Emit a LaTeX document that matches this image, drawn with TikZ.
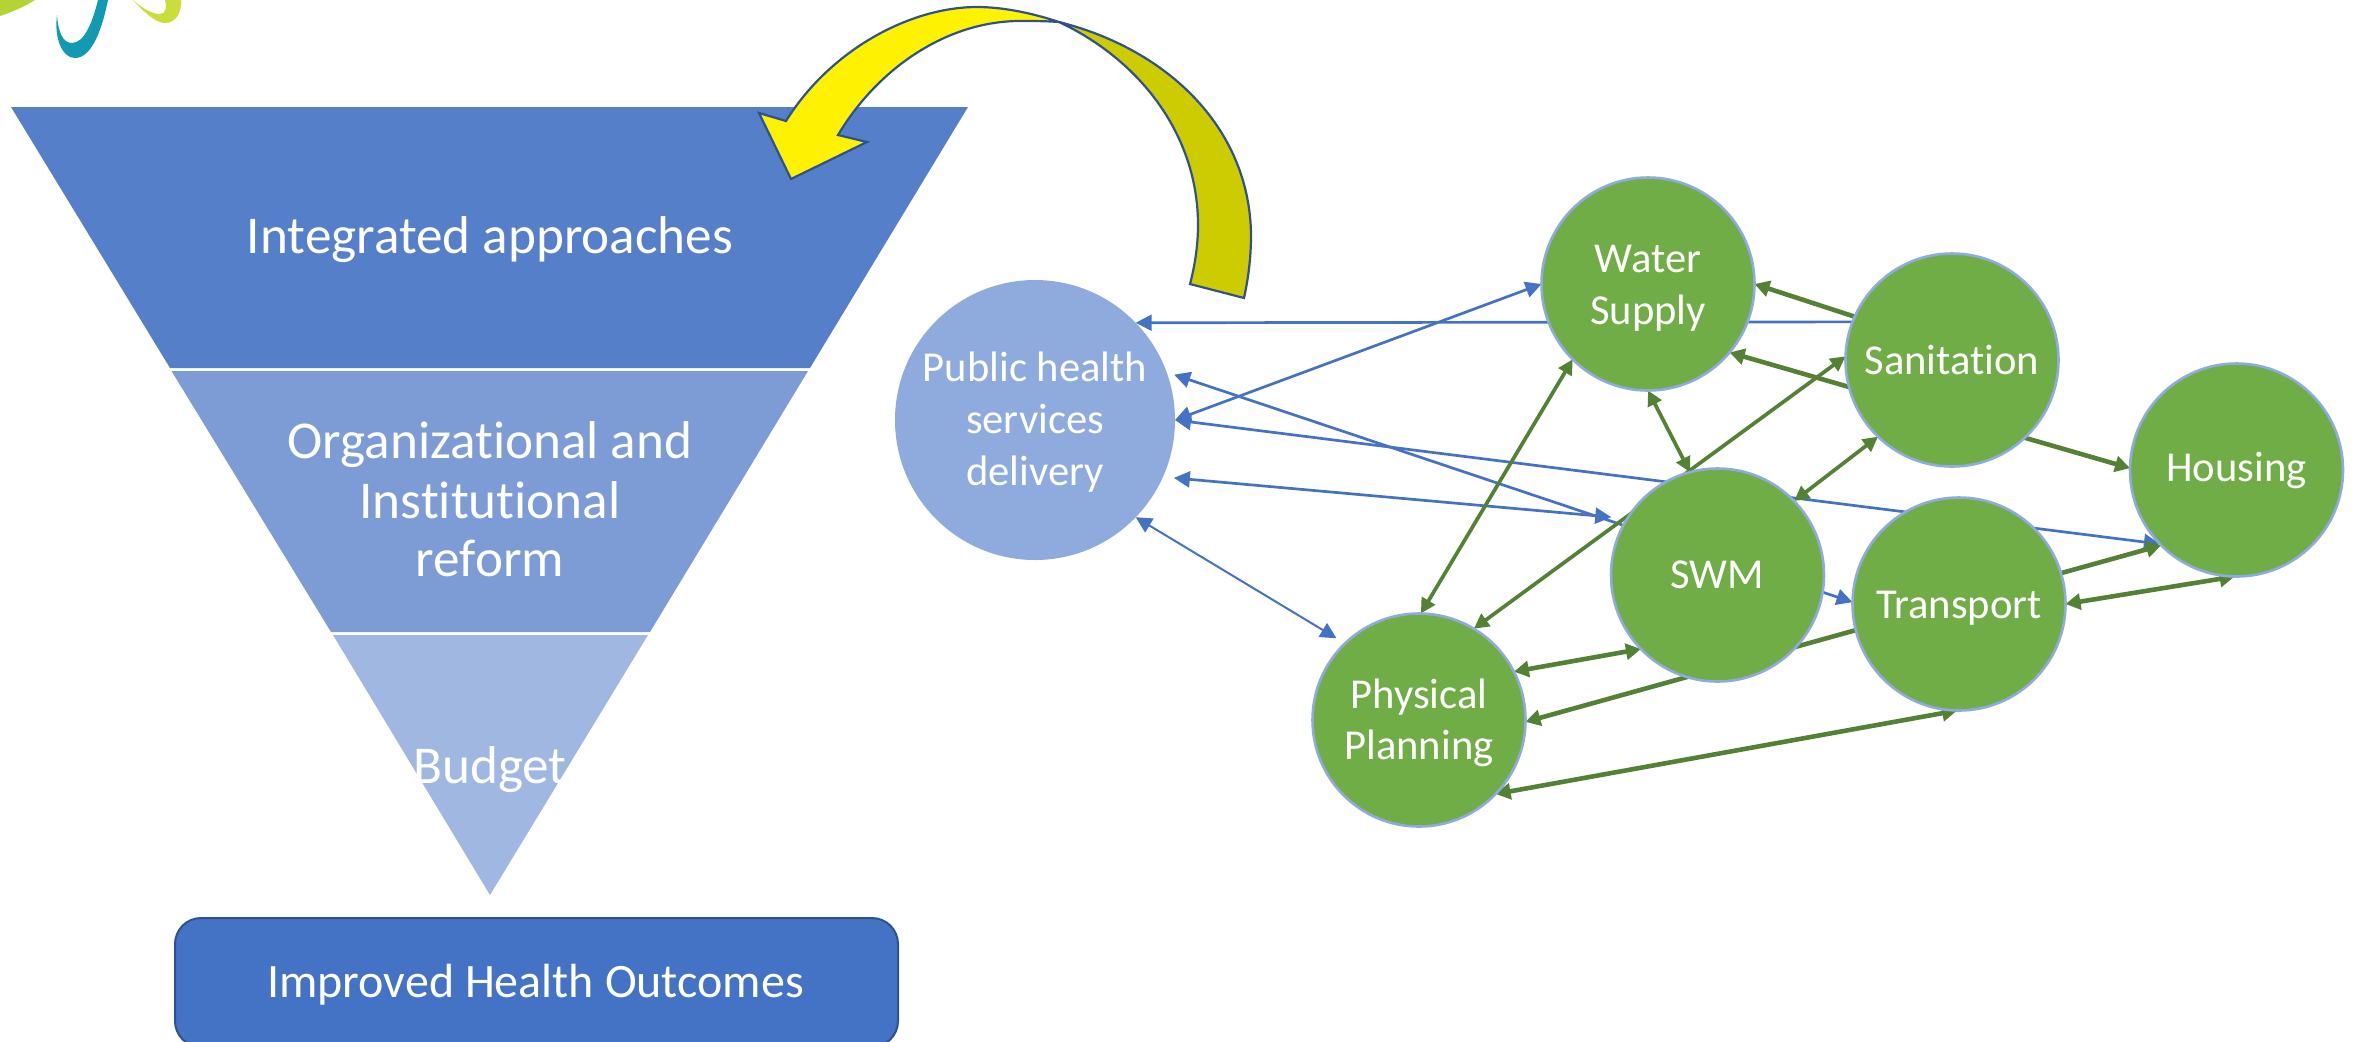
\documentclass[tikz,border=0pt]{standalone}
\usepackage{fontspec}
\setmainfont{Carlito}[Ligatures=NoCommon]
\usetikzlibrary{arrows.meta}
\pgfdeclarelayer{behind}
\pgfsetlayers{behind,main}
\definecolor{bandA}{HTML}{5580C9}
\definecolor{bandB}{HTML}{7D9CD6}
\definecolor{bandC}{HTML}{A0B7E1}
\definecolor{rectblue}{HTML}{4472C4}
\definecolor{rectedge}{HTML}{2F528F}
\definecolor{lightblue}{HTML}{8FAADC}
\definecolor{grass}{HTML}{70AD47}
\definecolor{darkgrass}{HTML}{548235}
\definecolor{olive}{HTML}{CCCC00}
\definecolor{teal}{HTML}{119AB0}
\definecolor{limeA}{HTML}{B5D334}
\definecolor{limeB}{HTML}{CBDD3A}
\newcommand{\ringlabel}[2]{\raisebox{-#1}[\height][\depth]{\begin{tabular}{@{}c@{}}#2\end{tabular}}}
\tikzset{
  x=0.5pt,y=-0.5pt,
  bigtext/.style={text=white,font=\fontsize{26.6}{31}\selectfont,align=center,inner sep=0pt},
  ringtext/.style={text=white,font=\fontsize{21.3}{25.9}\selectfont},
  sector/.style={circle,fill=grass,draw=lightblue,line width=1.3pt,minimum size=106.5pt,inner sep=0pt,outer sep=0pt},
  health/.style={circle,fill=lightblue,minimum size=140pt,inner sep=0pt,outer sep=0pt},
  bluelink/.style={rectblue,line width=1.35pt,>={Triangle[length=8pt,width=8pt]}},
  greenlink/.style={darkgrass,line width=2.3pt,>={Triangle[length=7.5pt,width=8pt]}},
  greenthin/.style={darkgrass,line width=1.85pt,>={Triangle[length=7.5pt,width=7.5pt]}},
  curved/.style={draw=rectedge,line width=1.1pt,line join=miter},
}
\begin{document}
\begin{tikzpicture}
\clip (0,0) rectangle (2356,1041);
% logo fragments
\fill[limeA] (0,0) -- (35,0) .. controls (24,7) and (12,12) .. (0,16) -- cycle;
\fill[teal] (57,15) .. controls (58,30) and (62,43) .. (72,43) .. controls (85,43) and (93,20) .. (98,0) -- (108,0) .. controls (103,25) and (93,58) .. (75,58) .. controls (62,58) and (54,38) .. (57,15) -- cycle;
\fill[limeB] (133,0) .. controls (142,8) and (152,14) .. (160,14) .. controls (166,14) and (167,6) .. (165,0) -- (181,0) .. controls (182,12) and (176,23) .. (165,23) .. controls (155,23) and (142,10) .. (133,0) -- cycle;
% funnel
\fill[bandA] (11,107) -- (968,107) -- (810,368) -- (170,368) -- cycle;
\fill[bandB] (171.5,371) -- (808,371) -- (650,632) -- (331,632) -- cycle;
\fill[bandC] (333,635) -- (648,635) -- (490,895) -- cycle;
\node[bigtext] (integrated) at (490,240) {Integrated approaches};
\node[bigtext] (org1) at (490,445) {Organizational and};
\node[bigtext] (org2) at (490,500) {Institutional};
\node[bigtext] (org3) at (490,558) {reform};
\node[bigtext] (budget) at (490,770) {Budget};
\node[draw=rectedge,fill=rectblue,line width=1pt,rounded corners=13pt,minimum width=361.5pt,minimum height=64.5pt,inner sep=0pt] (outcomes) at (536.5,982.5) {};
\node[text=white,font=\fontsize{24}{29}\selectfont,inner sep=0pt] (outcomestext) at (535.5,985) {Improved Health Outcomes};
% circles
\node[health,ringtext] (ph) at (1035,420) {\ringlabel{1.5pt}{Public health\\services\\delivery}};
\node[sector,ringtext] (water) at (1648,284) {\ringlabel{2.2pt}{Water\\Supply}};
\node[sector,ringtext] (san) at (1952,360) {\ringlabel{2.2pt}{Sanitation}};
\node[sector,ringtext] (house) at (2236.5,470) {\ringlabel{0.5pt}{Housing}};
\node[sector,ringtext] (swm) at (1717.5,575) {\ringlabel{1.5pt}{SWM}};
\node[sector,ringtext] (trans) at (1959,604) {\ringlabel{2.2pt}{Transport}};
\node[sector,ringtext] (plan) at (1419,720) {\ringlabel{1.8pt}{Physical\\Planning}};
% connectors, under the circles
\begin{pgfonlayer}{behind}
\draw[bluelink,->] (san.159.1) -- (ph.44.4);
\draw[bluelink,<->] (ph.0) -- (water.180);
\draw[bluelink,<->,shorten <=4pt] (ph.20) -- (trans.179.5);
\draw[bluelink,<->,shorten <=5.5pt,shorten >=8pt] (ph.-24.2) -- (swm.148.7);
\draw[bluelink,<->] (ph.0) -- (house.-136);
\draw[bluelink,<->,line width=1pt,shorten >=5pt] (ph.-44.7) -- (plan.134.8);
\draw[greenthin,<->] (water.-135) -- (plan.89);
\draw[greenthin,<->] (san.178) -- (plan.59.4);
\draw[greenthin,<->] (water.-90) -- (swm.105.6);
\draw[greenthin,<->] (san.-134.6) -- (swm.44.8);
\draw[greenlink,->] (san.156) -- (water.0.5);
\draw[greenlink,<->] (water.-40) -- (house.179);
\draw[greenlink,<->] (plan.-1) -- (house.-135.6);
\draw[greenlink,<->] (trans.0.5) -- (house.-91);
\draw[greenlink,<->] (plan.27) -- (swm.-136);
\draw[greenlink,<->] (plan.-44) -- (trans.-91.5);
\end{pgfonlayer}
% curved arrow
\draw[curved,fill=olive] (1059,22) .. controls (1170,50) and (1250,130) .. (1251,235) .. controls (1251,255) and (1249,275) .. (1244,298) -- (1190,284) .. controls (1195,265) and (1198,245) .. (1198,225) .. controls (1198,135) and (1140,60) .. (1059,22) -- cycle;
\draw[curved,fill=yellow] (786,121) .. controls (830,50) and (910,7) .. (977,7) .. controls (1005,7) and (1035,14) .. (1059,22) .. controls (1045,21) and (1035,21) .. (1020,21) .. controls (950,21) and (880,65) .. (838,135) -- (867,142) -- (791,179) -- (759,113) -- cycle;
\end{tikzpicture}
\end{document}
